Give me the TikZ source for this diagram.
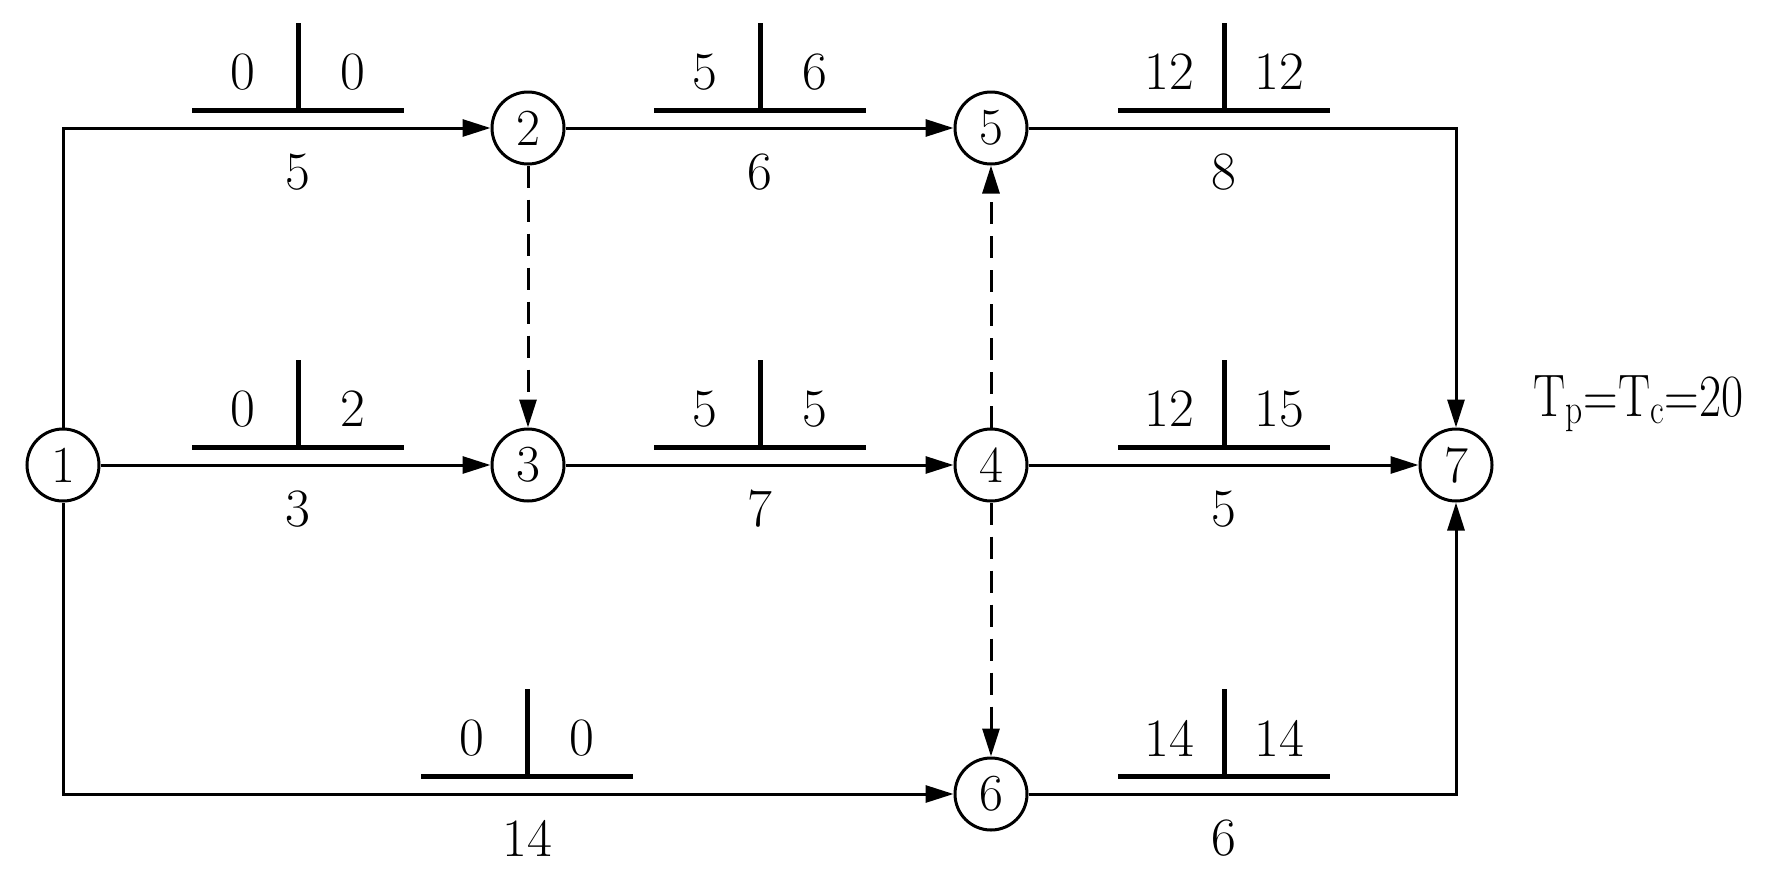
\documentclass[tikz,border=0pt]{standalone}
\usetikzlibrary{arrows.meta}
\begin{document}
\begin{tikzpicture}[x=0.5pt,y=-0.5pt,
  ev/.style={circle,draw,line width=1.5pt,minimum size=36pt,inner sep=0pt,font=\fontsize{26}{30}\selectfont},
  act/.style={line width=1.5pt,-{Triangle[length=14pt,width=8.5pt]}},
  dum/.style={act,dash pattern=on 11pt off 6pt},
  num/.style={font=\fontsize{27}{30}\selectfont,inner sep=0pt},
  bar/.style={line width=2.5pt}]
\useasboundingbox (0,0) rectangle (1778,884);
\node[ev] (n1) at (63,465) {1};
\node[ev] (n2) at (528,128) {2};
\node[ev] (n3) at (528,465) {3};
\node[ev] (n4) at (991,465) {4};
\node[ev] (n5) at (991,128) {5};
\node[ev] (n6) at (991,794) {6};
\node[ev] (n7) at (1456,465) {7};
\draw[act] (n1.north) |- (n2);
\draw[act] (n1) -- (n3);
\draw[act] (n1.south) |- (n6);
\draw[act] (n2) -- (n5);
\draw[act] (n3) -- (n4);
\draw[act] (n4) -- (n7);
\draw[act] (n5) -| (n7);
\draw[act] (n6) -| (n7);
\draw[dum] (n2) -- (n3);
\draw[dum] (n4) -- (n5);
\draw[dum] (n4) -- (n6);
\foreach \x/\y/\a/\b/\d/\n in {298/128/0/0/5/a, 760/128/5/6/6/b, 1224/128/12/12/8/c,
  298/465/0/2/3/d, 760/465/5/5/7/e, 1224/465/12/15/5/f, 527/794/0/0/14/g, 1224/794/14/14/6/h}{
  \draw[bar] (\x-106,\y-18) -- (\x+106,\y-18);
  \draw[bar] (\x,\y-18) -- (\x,\y-105);
  \node[num] (l\n) at (\x-55,\y-56) {\a};
  \node[num] (r\n) at (\x+55,\y-56) {\b};
  \node[num] (d\n) at (\x,\y+44) {\d};
}
\node[font=\fontsize{30}{34}\selectfont,anchor=base west,inner sep=0pt] (tp) at (1533,416) {\scalebox{0.8}[1]{T\textsubscript{p}=T\textsubscript{c}=20}};
\end{tikzpicture}
\end{document}
